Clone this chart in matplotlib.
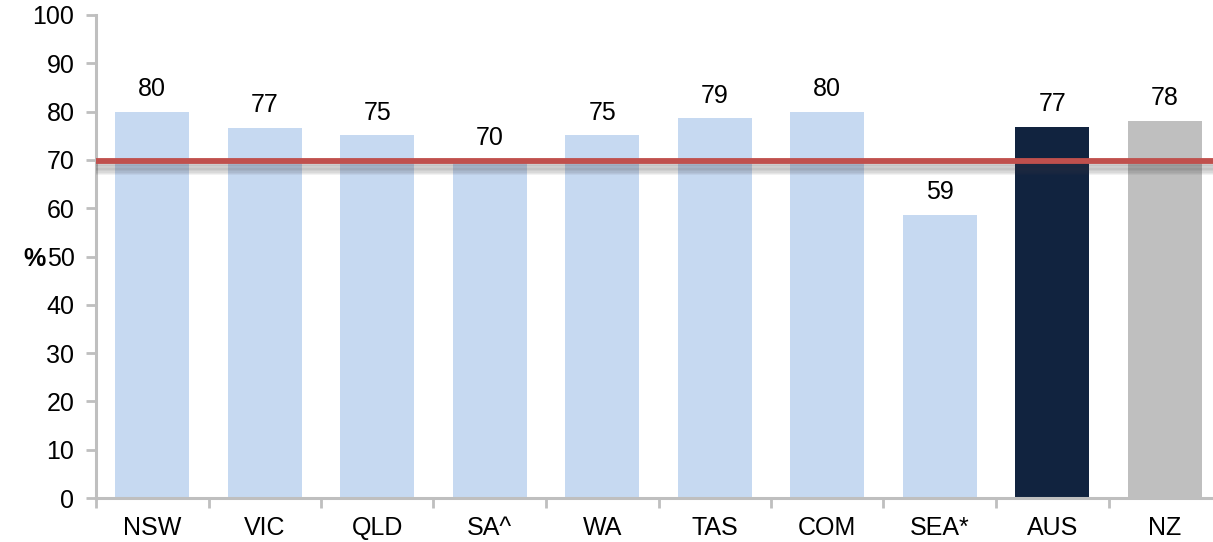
import numpy as np
import matplotlib.pyplot as plt
import matplotlib.patheffects as pe

plt.rcParams['font.family'] = ['Liberation Sans', 'DejaVu Sans']

# data
regions = ['NSW', 'VIC', 'QLD', 'SA^', 'WA', 'TAS', 'COM', 'SEA*', 'AUS', 'NZ']
values = [80.0, 76.6, 75.1, 69.8, 75.1, 78.6, 80.0, 58.6, 76.8, 78.1]
target = 70
bar_colors = ['#C6D9F1'] * 8 + ['#11233F', '#BFBFBF']

fs = 18

fig = plt.figure(figsize=(12.13, 5.42), dpi=100)
ax = fig.add_axes([96 / 1213, 1 - 498 / 542, 1125 / 1213, 483 / 542])

x = np.arange(len(regions))
ax.bar(x, values, width=0.66, color=bar_colors, zorder=2)
for xi, v in zip(x, values):
    ax.text(xi, v + 2.2, f'{round(v):d}', ha='center', va='bottom', fontsize=fs, color='black')

# target line with a soft shadow underneath
shadow = [pe.SimpleLineShadow(offset=(0, -k), shadow_color='#404040', alpha=0.07) for k in range(1, 9)]
ax.axhline(target - 0.3, color='#C0504D', lw=4.2, zorder=4, path_effects=shadow + [pe.Normal()])

ax.set_xlim(-0.5, len(regions) - 0.5)
ax.set_ylim(0, 100)
ax.set_yticks(np.arange(0, 101, 10))
ax.set_xticks(x)
ax.set_xticklabels(regions)
ax.set_xticks(np.arange(-0.5, len(regions), 1), minor=True)
ax.tick_params(axis='x', which='major', length=0, pad=13, labelsize=fs)
ax.tick_params(axis='x', which='minor', length=7, width=2, color='#BFBFBF', direction='out')
ax.tick_params(axis='y', length=7.5, width=2, color='#BFBFBF', direction='out', pad=8, labelsize=fs)

for s in ['top', 'right']:
    ax.spines[s].set_visible(False)
for s in ['left', 'bottom']:
    ax.spines[s].set_color('#BFBFBF')
    ax.spines[s].set_linewidth(2.2)

ax.set_ylabel('%', rotation=0, fontsize=fs, fontweight='bold')
ax.yaxis.set_label_coords(-0.055, 0.47)

fig.savefig('out.png', dpi=100)
